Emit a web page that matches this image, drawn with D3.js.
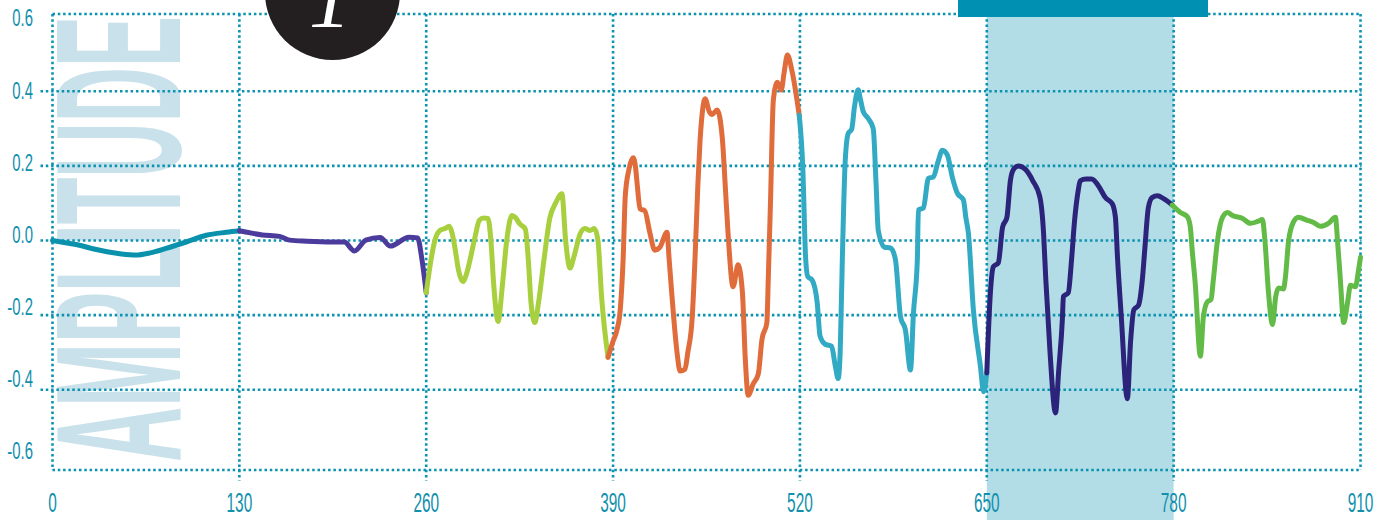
<!DOCTYPE html>
<html>
<head>
<meta charset="utf-8">
<script src="https://cdn.jsdelivr.net/npm/d3@7"></script>
<style>
  html, body { margin: 0; padding: 0; background: #fff; }
  #chart { width: 1386px; height: 520px; overflow: hidden; }
</style>
</head>
<body>
<div id="chart"></div>
<script>
// tick values
const xTicks = [0, 130, 260, 390, 520, 650, 780, 910];
const yTicks = [0.6, 0.4, 0.2, 0.0, -0.2, -0.4, -0.6];
const yGrid = [0.4, 0.2, 0.0, -0.2, -0.4];
const highlight = [650, 780];

// waveform in pieces of ~130 samples
const seg1 = [[0,0],[9,-0.006],[18,-0.012],[28,-0.022],[38,-0.03],[48,-0.036],[58,-0.039],[68,-0.033],[79,-0.021],[93,-0.004],[107,0.014],[121,0.022],[130,0.026]];
const seg2 = [[130,0.026],[146,0.015],[158,0.011],[165,0.001],[177,-0.002],[195,-0.004],[203,-0.004],[210,-0.028],[218,0.001],[228,0.008],[235,-0.015],[248,0.009],[254,0.007],[257,-0.05],[260,-0.14]];
const seg3 = [[260,-0.14],[263,-0.06],[266,0.0],[269.5,0.027],[273,0.032],[276,0.038],[278,0.02],[280,-0.02],[282.5,-0.08],[285.5,-0.11],[288,-0.09],[290.6,-0.05],[294,0.01],[297,0.054],[300,0.06],[303,0.059],[305,0.0],[307,-0.12],[310,-0.217],[313,-0.12],[316,0.0],[319.6,0.067],[322,0.062],[325,0.045],[329,0.03],[331,-0.05],[333,-0.17],[335.6,-0.22],[338,-0.17],[342,-0.05],[346,0.06],[350,0.1],[354.4,0.125],[357,0.0],[360,-0.074],[363,-0.04],[367,0.017],[370.4,0.032],[374,0.027],[377,0.032],[379.5,0.0],[382,-0.15],[386.5,-0.313]];
const seg4 = [[386.5,-0.313],[390,-0.27],[392.7,-0.24],[395,-0.185],[397,-0.05],[398.5,0.12],[401,0.19],[404,0.222],[405.5,0.2],[407,0.142],[408.7,0.085],[412,0.08],[415.7,0.019],[419,-0.026],[422.6,-0.018],[427.5,0.022],[429,-0.05],[431,-0.15],[434.5,-0.3],[436.6,-0.35],[440,-0.345],[442,-0.3],[445,-0.21],[447,-0.05],[449,0.15],[450.5,0.266],[452,0.34],[454,0.38],[457,0.345],[459,0.338],[462.4,0.35],[466,0.274],[468,0.15],[470,0.019],[473.5,-0.124],[477,-0.065],[480,-0.14],[482,-0.318],[484,-0.415],[487.5,-0.384],[491,-0.358],[493.6,-0.265],[497,-0.22],[498,-0.1],[499.5,0.1],[501.5,0.376],[504.3,0.424],[507,0.403],[509,0.45],[511.3,0.497],[514.6,0.452],[519.5,0.336]];
const seg5 = [[519.5,0.336],[522,0.195],[524,-0.05],[525.5,-0.097],[528.5,-0.106],[532,-0.166],[534,-0.256],[537.6,-0.278],[542,-0.283],[544.6,-0.336],[546.6,-0.37],[548,-0.3],[549.5,-0.05],[551.5,0.213],[553.6,0.287],[556,0.298],[558,0.36],[560.5,0.404],[562,0.38],[564,0.346],[567.5,0.327],[571,0.3],[573,0.15],[574.5,0.027],[579,-0.018],[583,-0.02],[586.4,-0.05],[590,-0.205],[593.4,-0.24],[596.9,-0.347],[599,-0.194],[601.7,-0.05],[602.4,0.082],[605.9,0.087],[609.4,0.167],[612.8,0.17],[616,0.21],[619.1,0.242],[622.6,0.229],[626,0.17],[629.5,0.127],[633.7,0.109],[635.5,0.06],[637.2,0.02],[640.7,-0.187],[645.6,-0.338],[647.7,-0.405],[650,-0.355]];
const seg6 = [[650,-0.355],[652.5,-0.14],[654.6,-0.07],[658,-0.06],[661,0.036],[664,0.062],[666.4,0.16],[668.5,0.19],[672,0.2],[677,0.19],[682,0.16],[687,0.115],[689.5,0.02],[691,-0.1],[694,-0.3],[697.8,-0.462],[700,-0.35],[702.6,-0.21],[703.3,-0.15],[706.7,-0.14],[709,-0.05],[711,0.05],[713.6,0.134],[715,0.16],[719,0.165],[723,0.165],[727.6,0.147],[732.5,0.115],[737.4,0.098],[739.5,0.062],[741,-0.05],[743.5,-0.2],[747.8,-0.424],[750,-0.273],[752.3,-0.186],[755.6,-0.173],[758.2,-0.106],[760,-0.02],[762.4,0.088],[765,0.115],[768.8,0.12],[773,0.112],[779,0.095]];
const seg7 = [[779,0.095],[784.7,0.075],[789.5,0.064],[791.6,0.036],[793,-0.03],[795,-0.114],[798.6,-0.31],[800.7,-0.204],[803.5,-0.164],[806,-0.158],[807.6,-0.106],[810.5,0],[814,0.062],[817.5,0.075],[821,0.067],[828,0.059],[833.5,0.046],[838.4,0.051],[841.8,0.056],[843.5,0.0],[846,-0.14],[848.8,-0.225],[851,-0.15],[853,-0.127],[856.4,-0.13],[857.8,-0.097],[860,0],[863.3,0.049],[866.8,0.062],[873,0.054],[877,0.049],[882,0.038],[887.7,0.046],[892.6,0.062],[894,0.0],[896,-0.106],[898.3,-0.22],[901,-0.166],[903,-0.12],[906.5,-0.124],[908.6,-0.08],[910,-0.045]];

const segments = [seg1, seg2, seg3, seg4, seg5, seg6, seg7];
const segColors = ["#0a92ad", "#4a3b9c", "#a8cf3e", "#e06b3b", "#33aac4", "#2c237a", "#62bb46"];

document.addEventListener("DOMContentLoaded", () => {
  const width = 1386;
  const height = 520;
  const gridColor = "#0a93b1";

  const svg = d3
    .select("#chart")
    .append("svg")
    .attr("width", width)
    .attr("height", height);

  const x = d3.scaleLinear().domain([0, 910]).range([52.5, 1360.5]);
  const y = d3.scaleLinear().domain([-0.615, 0.607]).range([470, 14]);
  // the tick labels sit a little off the grid in the original
  const yLab = d3.scaleLinear().domain([0.6, -0.6]).range([18, 451]);

  const [y0, y1] = y.domain();

  // big background word
  svg
    .append("text")
    .attr("transform", "translate(180,462) rotate(-90)")
    .attr("textLength", 446)
    .attr("lengthAdjust", "spacingAndGlyphs")
    .style("font-family", "'Liberation Sans', Arial, sans-serif")
    .style("font-weight", "bold")
    .style("font-size", "178px")
    .attr("fill", "#c9e1eb")
    .text("AMPLITUDE");

  // highlighted window
  svg
    .append("rect")
    .attr("x", x(highlight[0]))
    .attr("y", 0)
    .attr("width", x(highlight[1]) - x(highlight[0]))
    .attr("height", height)
    .attr("fill", "#b3dde6");

  // dotted grid
  const grid = svg
    .append("g")
    .attr("stroke", gridColor)
    .attr("stroke-width", 2.6)
    .attr("stroke-dasharray", "2.5,2.8")
    .attr("fill", "none");

  grid
    .selectAll("line.h")
    .data(yGrid)
    .join("line")
    .attr("class", "h")
    .attr("x1", x(0) - 12)
    .attr("x2", x(910) + 1)
    .attr("y1", (d) => y(d))
    .attr("y2", (d) => y(d));

  grid
    .selectAll("line.frame")
    .data([y1, y0])
    .join("line")
    .attr("class", "frame")
    .attr("x1", x(0))
    .attr("x2", x(910) + 1)
    .attr("y1", (d) => y(d))
    .attr("y2", (d) => y(d));

  grid
    .selectAll("line.v")
    .data(xTicks)
    .join("line")
    .attr("class", "v")
    .attr("x1", (d) => x(d))
    .attr("x2", (d) => x(d))
    .attr("y1", y(y1))
    .attr("y2", (d) => (d === 0 || d === 910 ? y(y0) : y(y0) + 11));

  // waveform
  const line = d3
    .line()
    .x((d) => x(d[0]))
    .y((d) => y(d[1]))
    .curve(d3.curveMonotoneX);

  svg
    .selectAll("path.wave")
    .data(segments)
    .join("path")
    .attr("class", "wave")
    .attr("d", line)
    .attr("fill", "none")
    .attr("stroke", (d, i) => segColors[i])
    .attr("stroke-width", 5)
    .attr("stroke-linejoin", "round")
    .attr("stroke-linecap", "round");

  // tick labels
  svg
    .selectAll("text.ylab")
    .data(yTicks)
    .join("text")
    .attr("class", "ylab")
    .attr("transform", (d) => `translate(33,${yLab(d)}) scale(0.62,1)`)
    .attr("text-anchor", "end")
    .attr("dominant-baseline", "central")
    .style("font-family", "'Liberation Sans', Arial, sans-serif")
    .style("font-size", "24px")
    .attr("fill", "#1190ad")
    .text((d) => d.toFixed(1));

  svg
    .selectAll("text.xlab")
    .data(xTicks)
    .join("text")
    .attr("class", "xlab")
    .attr("transform", (d) => `translate(${x(d)},503) scale(0.55,1)`)
    .attr("text-anchor", "middle")
    .attr("dominant-baseline", "central")
    .style("font-family", "'Liberation Sans', Arial, sans-serif")
    .style("font-size", "28px")
    .attr("fill", "#1190ad")
    .text((d) => d);

  // header decorations
  svg
    .append("rect")
    .attr("x", 958)
    .attr("y", 0)
    .attr("width", 250)
    .attr("height", 17)
    .attr("fill", "#0090b1");

  svg
    .append("circle")
    .attr("cx", 332.5)
    .attr("cy", -7.5)
    .attr("r", 67.5)
    .attr("fill", "#231f20");

  svg
    .append("text")
    .attr("x", 330)
    .attr("y", 27)
    .attr("text-anchor", "middle")
    .style("font-family", "'Liberation Serif', 'Times New Roman', serif")
    .style("font-style", "italic")
    .style("font-size", "84px")
    .attr("fill", "#fff")
    .text("1");
});
</script>
</body>
</html>
